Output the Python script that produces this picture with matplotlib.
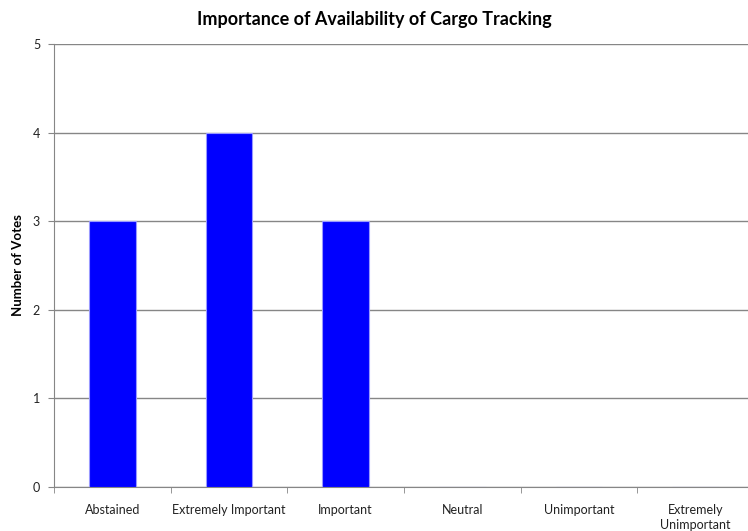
import numpy as np
import matplotlib
matplotlib.use('Agg')
from matplotlib import pyplot as plt

categories = ['Abstained', 'Extremely Important', 'Important', 'Neutral',
              'Unimportant', 'Extremely\nUnimportant']
votes = [3, 4, 3, 0, 0, 0]

plt.rcParams['font.family'] = ['Lato', 'DejaVu Sans']

fig = plt.figure(figsize=(7.48, 5.31), dpi=100)
ax = fig.add_axes([54/748, 1-487/531, 700/748, 443/531])

x = np.arange(len(categories))
ax.bar(x, votes, width=0.4, color='#0000ff', edgecolor='#9999ff', linewidth=0.8, zorder=3)

ax.set_xlim(-0.5, len(categories)-0.5)
ax.set_ylim(0, 5)
ax.set_yticks(range(6))
ax.yaxis.grid(True, color='#868686', linewidth=1)
ax.set_axisbelow(True)

ax.set_xticks(x)
ax.set_xticklabels(categories, fontsize=9, color='#222222', linespacing=1.35)
ax.set_xticks(np.arange(len(categories)+1)-0.5, minor=True)
ax.tick_params(axis='x', which='major', length=0, pad=12)
ax.tick_params(axis='x', which='minor', length=4, color='#868686')
ax.tick_params(axis='y', length=4, color='#868686', labelsize=9, labelcolor='#222222', pad=6)

for s in ['top', 'right']:
    ax.spines[s].set_visible(False)
for s in ['left', 'bottom']:
    ax.spines[s].set_color('#868686')

fig.text(18/748, 1-265/531, 'Number of Votes', rotation=90, ha='center', va='center',
         fontsize=9.5, fontweight='bold')
fig.text(0.5, 1-19/531, 'Importance of Availability of Cargo Tracking',
         ha='center', va='center', fontsize=13, fontweight='bold')

fig.savefig('out.png', dpi=100)
